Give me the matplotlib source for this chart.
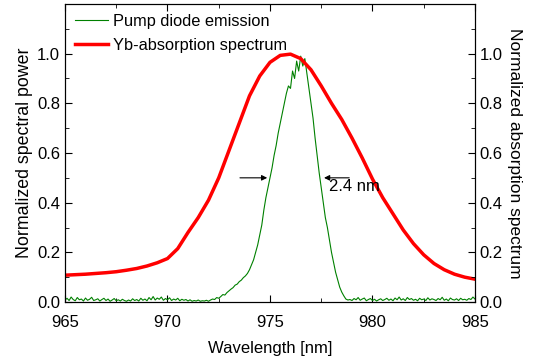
import numpy as np
import matplotlib.pyplot as plt
from matplotlib.ticker import MultipleLocator

plt.rcParams['font.family'] = ['Liberation Sans', 'DejaVu Sans']

# Yb absorption spectrum (0.5 nm steps)
abs_wl = [965.0, 965.5, 966.0, 966.5, 967.0, 967.5, 968.0, 968.5, 969.0, 969.5,
          970.0, 970.5, 971.0, 971.5, 972.0, 972.5, 973.0, 973.5, 974.0, 974.5,
          975.0, 975.5, 976.0, 976.5, 977.0, 977.5, 978.0, 978.5, 979.0, 979.5,
          980.0, 980.5, 981.0, 981.5, 982.0, 982.5, 983.0, 983.5, 984.0, 984.5, 985.0]
abs_val = [0.108, 0.110, 0.112, 0.115, 0.118, 0.122, 0.128, 0.135, 0.145, 0.158,
           0.175, 0.215, 0.28, 0.34, 0.41, 0.50, 0.61, 0.72, 0.83, 0.91,
           0.965, 0.993, 0.998, 0.98, 0.935, 0.87, 0.80, 0.735, 0.66, 0.58,
           0.495, 0.42, 0.355, 0.29, 0.235, 0.19, 0.155, 0.13, 0.112, 0.10, 0.092]

# pump diode emission, 0.1 nm steps from 965 to 985
pump_val = [
    0.008, 0.015, 0.006, 0.020, 0.010, 0.005, 0.018, 0.009, 0.012, 0.004,
    0.016, 0.007, 0.011, 0.019, 0.006, 0.009, 0.013, 0.004, 0.010, 0.015,
    0.006, 0.012, 0.003, 0.008, 0.014, 0.005, 0.009, 0.004, 0.011, 0.006,
    0.003, 0.008, 0.004, 0.013, 0.006, 0.010, 0.004, 0.015, 0.007, 0.012,
    0.005, 0.018, 0.009, 0.022, 0.008, 0.016, 0.011, 0.020, 0.007, 0.014,
    0.009, 0.017, 0.006, 0.012, 0.008, 0.015, 0.005, 0.011, 0.007, 0.010,
    0.004, 0.009, 0.003, 0.006, 0.004, 0.008, 0.003, 0.005, 0.004, 0.007,
    0.003, 0.008, 0.012, 0.010, 0.018, 0.015, 0.022, 0.030, 0.028, 0.038,
    0.045, 0.052, 0.058, 0.068, 0.072, 0.082, 0.088, 0.098, 0.105, 0.115,
    0.130, 0.150, 0.170, 0.200, 0.230, 0.270, 0.310, 0.370, 0.420, 0.460,
    0.500, 0.540, 0.590, 0.630, 0.680, 0.720, 0.760, 0.800, 0.840, 0.870,
    0.860, 0.930, 0.900, 0.970, 0.930, 0.990, 0.950, 0.980, 0.920, 0.860,
    0.800, 0.740, 0.660, 0.590, 0.520, 0.460, 0.400, 0.340, 0.300, 0.250,
    0.200, 0.160, 0.120, 0.090, 0.060, 0.040, 0.025, 0.012, 0.008, 0.010,
    0.006, 0.014, 0.009, 0.018, 0.007, 0.012, 0.016, 0.005, 0.010, 0.014,
    0.006, 0.011, 0.004, 0.009, 0.013, 0.006, 0.010, 0.015, 0.007, 0.012,
    0.005, 0.016, 0.009, 0.020, 0.008, 0.013, 0.006, 0.018, 0.010, 0.014,
    0.007, 0.011, 0.005, 0.015, 0.009, 0.012, 0.006, 0.017, 0.008, 0.013,
    0.010, 0.006, 0.014, 0.009, 0.019, 0.007, 0.012, 0.005, 0.016, 0.010,
    0.008, 0.013, 0.006, 0.015, 0.009, 0.011, 0.007, 0.014, 0.010, 0.020,
    0.012,
]
pump_wl = np.round(965.0 + 0.1 * np.arange(len(pump_val)), 1)

fwhm_left = 975.0
fwhm_right = 977.5
fwhm_text = "2.4 nm"

fs = 12
fig = plt.figure(figsize=(5.34, 3.61), dpi=100)
ax = fig.add_axes([0.1217, 0.1634, 0.7678, 0.8256])

ax.plot(pump_wl, pump_val, color='#008000', lw=0.8, label='Pump diode emission')
ax.plot(abs_wl, abs_val, color='#ff0000', lw=2.5, label='Yb-absorption spectrum')

ax.set_xlim(965, 985)
ax.set_ylim(0, 1.2)
ax.xaxis.set_major_locator(MultipleLocator(5))
ax.xaxis.set_minor_locator(MultipleLocator(2.5))
ax.yaxis.set_minor_locator(MultipleLocator(0.1))
ax.set_yticks([0, 0.2, 0.4, 0.6, 0.8, 1.0])
ax.tick_params(which='both', direction='in', top=True, labelsize=fs)
ax.tick_params(which='major', length=5)
ax.tick_params(which='minor', length=3)
ax.tick_params(axis='x', pad=9)
ax.set_xlabel('Wavelength [nm]', fontsize=fs, labelpad=8)
ax.set_ylabel('Normalized spectral power', fontsize=12.8, labelpad=3)

ax2 = ax.twinx()
ax2.set_ylim(0, 1.2)
ax2.set_yticks([0, 0.2, 0.4, 0.6, 0.8, 1.0])
ax2.yaxis.set_minor_locator(MultipleLocator(0.1))
ax2.tick_params(which='both', direction='in', labelsize=fs)
ax2.tick_params(which='major', length=5)
ax2.tick_params(which='minor', length=3)
ax2.set_ylabel('Normalized absorption spectrum', fontsize=12.5, rotation=270, labelpad=14)

for a in (ax, ax2):
    a.yaxis.set_major_formatter(plt.FormatStrFormatter('%.1f'))

# FWHM arrows
arr = dict(arrowstyle='-|>', color='black', lw=0.8, mutation_scale=8)
ax.annotate('', xy=(fwhm_left, 0.5), xytext=(fwhm_left - 1.6, 0.5), arrowprops=arr)
ax.annotate('', xy=(fwhm_right, 0.5), xytext=(fwhm_right + 1.5, 0.5), arrowprops=arr)
ax.text(fwhm_right + 0.4, 0.465, fwhm_text, fontsize=fs, va='center', ha='left')

ax.legend(loc='upper left', frameon=False, fontsize=11.8, handlelength=2.0,
          borderaxespad=0.2, labelspacing=0.55, handletextpad=0.35)

fig.savefig('out.png', dpi=100)
